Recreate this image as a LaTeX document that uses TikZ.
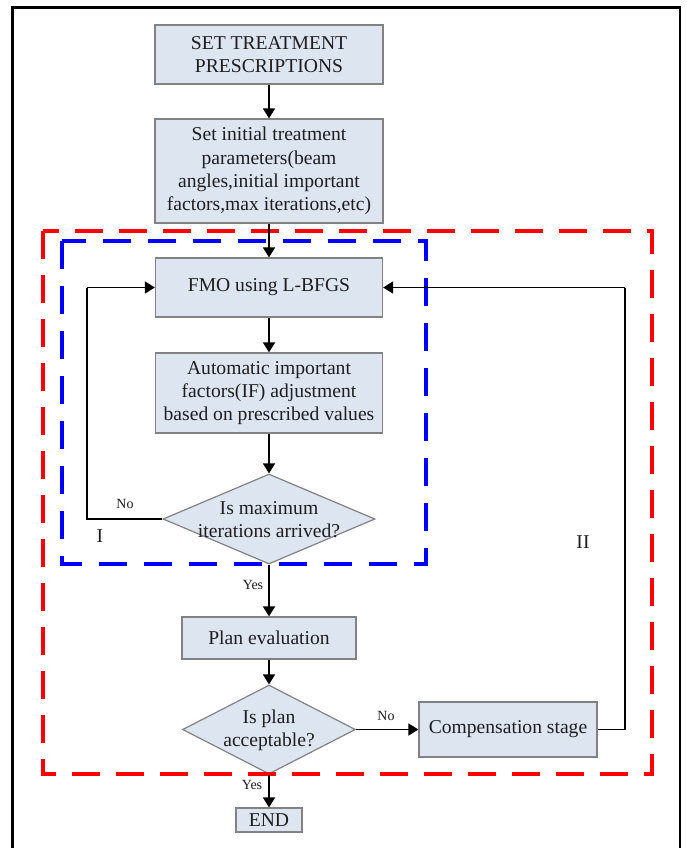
\documentclass[tikz,border=0pt]{standalone}
\usepackage{fontspec}
\setmainfont{Liberation Serif}
\usetikzlibrary{arrows.meta,shapes.geometric}
\definecolor{boxfill}{RGB}{221,229,241}
\definecolor{boxdraw}{RGB}{130,130,130}
\definecolor{txt}{RGB}{30,30,30}
\definecolor{dred}{RGB}{255,0,0}
\definecolor{dblue}{RGB}{0,0,255}
\tikzset{
  main/.style={font=\fontsize{19.6}{23.4}\selectfont, text=txt},
  procbox/.style={main, draw=boxdraw, fill=boxfill, line width=1.2pt, rectangle, align=center, inner sep=0pt},
  decbox/.style={draw=boxdraw, fill=boxfill, line width=1.2pt, diamond, inner sep=0pt},
  dectext/.style={main, align=center, inner sep=0pt},
  smalllbl/.style={font=\fontsize{14}{16}\selectfont, text=txt, inner sep=0pt},
  romanlbl/.style={font=\fontsize{19.6}{23.4}\selectfont, text=txt, inner sep=0pt},
  arr/.style={draw=black, line width=1.6pt, -{Triangle[width=12pt,length=10pt]}},
  conn/.style={draw=black, line width=1.6pt},
  reddash/.style={draw=dred, line width=3.5pt, dash pattern=on 28pt off 16pt},
  bluedash/.style={draw=dblue, line width=3.5pt, dash pattern=on 28pt off 17pt},
}
\begin{document}
\begin{tikzpicture}[x=1pt,y=-1pt]
\useasboundingbox (0,0) rectangle (686,848);
\fill[white] (0,0) rectangle (686,848);
% outer frame
\draw[line width=2.4pt] (12.5,848) -- (12.5,7.5) -- (680,7.5) -- (680,848);

% boxes
\node[procbox, minimum width=228pt, minimum height=59pt] (b1) at (269,54.5) {SET TREATMENT\\PRESCRIPTIONS};
\node[procbox, minimum width=228pt, minimum height=104pt] (b2) at (269,171) {Set initial treatment\\parameters(beam\\angles,initial important\\factors,max iterations,etc)};
\node[procbox, minimum width=227pt, minimum height=59pt] (fmo) at (269,287.5) {FMO using L-BFGS};
\node[procbox, minimum width=227pt, minimum height=80pt] (auto) at (269,393) {Automatic important\\factors(IF) adjustment\\based on prescribed values};
\node[decbox, minimum width=212pt, minimum height=90pt] (d1) at (269,519) {};
\node[dectext] (d1t) at (269,519.5) {Is maximum\\iterations arrived?};
\node[procbox, minimum width=174pt, minimum height=42pt] (plan) at (269,638) {Plan evaluation};
\node[decbox, minimum width=173pt, minimum height=89pt] (d2) at (269,729.5) {};
\node[dectext] (d2t) at (269,730) {Is plan\\acceptable?};
\node[procbox, minimum width=178pt, minimum height=55pt] (comp) at (508,729.5) {Compensation stage};
\node[procbox, minimum width=66pt, minimum height=24pt] (end) at (269,820) {END};

% dashed regions
\draw[reddash] (43,231) rectangle (652,774);
\draw[bluedash] (62,241) rectangle (426,564);

% connectors
\coordinate (lft) at (87,287.5);
\coordinate (rgt) at (625,287.5);
\draw[arr] (b1.south) -- (b2.north);
\draw[arr] (b2.south) -- (fmo.north);
\draw[arr] (fmo.south) -- (auto.north);
\draw[arr] (auto.south) -- (d1.north);
\draw[arr] (d1.south) -- (plan.north);
\draw[arr] (plan.south) -- (d2.north);
\draw[arr] (d2.south) -- (end.north);
\draw[arr] (d2.east) -- (comp.west);
\draw[conn] (d1.west) -| (lft);
\draw[arr] (lft) -- (fmo.west);
\draw[conn] (comp.east) -| (rgt);
\draw[arr] (rgt) -- (fmo.east);

% labels
\node[smalllbl] (no1) at (125,504) {No};
\node[smalllbl] (yes1) at (253,585) {Yes};
\node[smalllbl] (no2) at (386,716) {No};
\node[smalllbl] (yes2) at (252,785) {Yes};
\node[romanlbl] (r1) at (100,536) {I};
\node[romanlbl] (r2) at (583,542) {II};
\end{tikzpicture}
\end{document}
